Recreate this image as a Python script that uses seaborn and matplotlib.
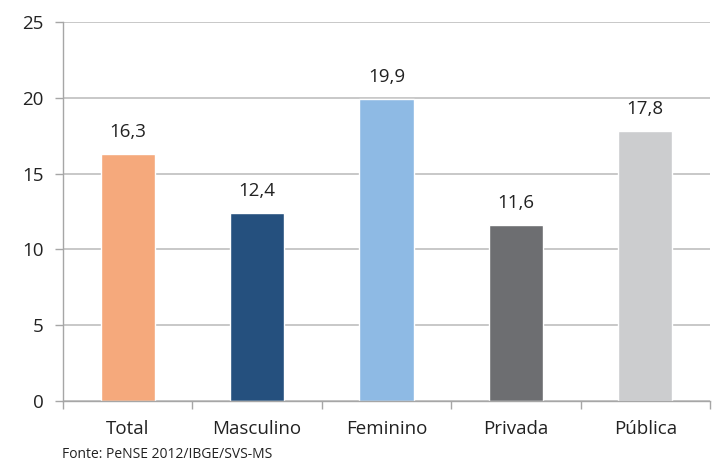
import matplotlib
matplotlib.use("Agg")
import matplotlib.pyplot as plt
import seaborn as sns
import pandas as pd
from matplotlib.ticker import FixedLocator

categorias = ["Total", "Masculino", "Feminino", "Privada", "Pública"]
valores = [16.3, 12.4, 19.9, 11.6, 17.8]
rotulos = ["16,3", "12,4", "19,9", "11,6", "17,8"]
cores = ["#F5A97C", "#25507E", "#8EBAE4", "#6D6E71", "#CCCDCF"]
yticks = [0, 5, 10, 15, 20, 25]

sns.set_theme(style="white")
plt.rcParams['font.family'] = ['Open Sans', 'DejaVu Sans']

df = pd.DataFrame({"cat": categorias, "val": valores})

fig = plt.figure(figsize=(7.22, 4.70), dpi=100)
ax = fig.add_axes([63/722, 1 - 401/470, (710-63)/722, (401-22)/470])

sns.barplot(data=df, x="cat", y="val", hue="cat", palette=cores, legend=False,
            width=0.42, ax=ax, saturation=1)

fs = 13.5
ax.set_ylim(0, 25)
ax.set_xlim(-0.5, 4.5)
ax.set_yticks(yticks)
ax.set_yticklabels([str(t) for t in yticks], fontsize=fs, color="#222222")
ax.yaxis.grid(True, color="#BFBFBF", linewidth=1.2)
ax.set_axisbelow(True)
ax.set_xlabel("")
ax.set_ylabel("")

for s in ["top", "right"]:
    ax.spines[s].set_visible(False)
for s in ["left", "bottom"]:
    ax.spines[s].set_color("#A6A6A6")
    ax.spines[s].set_linewidth(1.0)

ax.tick_params(axis="y", which="major", length=6, color="#A6A6A6", width=1.0, left=True, pad=8)
ax.set_xticks(range(len(categorias)))
ax.set_xticklabels(categorias, fontsize=fs, color="#222222")
ax.tick_params(axis="x", which="major", length=0, pad=14)
ax.xaxis.set_minor_locator(FixedLocator([-0.5, 0.5, 1.5, 2.5, 3.5, 4.5]))
ax.tick_params(axis="x", which="minor", length=6, color="#A6A6A6", width=1.0, bottom=True)

for i, (v, r) in enumerate(zip(valores, rotulos)):
    ax.text(i, v + 0.85, r, ha="center", va="bottom", fontsize=fs, color="#222222")

fig.text(62/722, 1 - 455/470, "Fonte: PeNSE 2012/IBGE/SVS-MS", fontsize=10, color="#222222",
         ha="left", va="center")

fig.savefig("out.png", dpi=100)
